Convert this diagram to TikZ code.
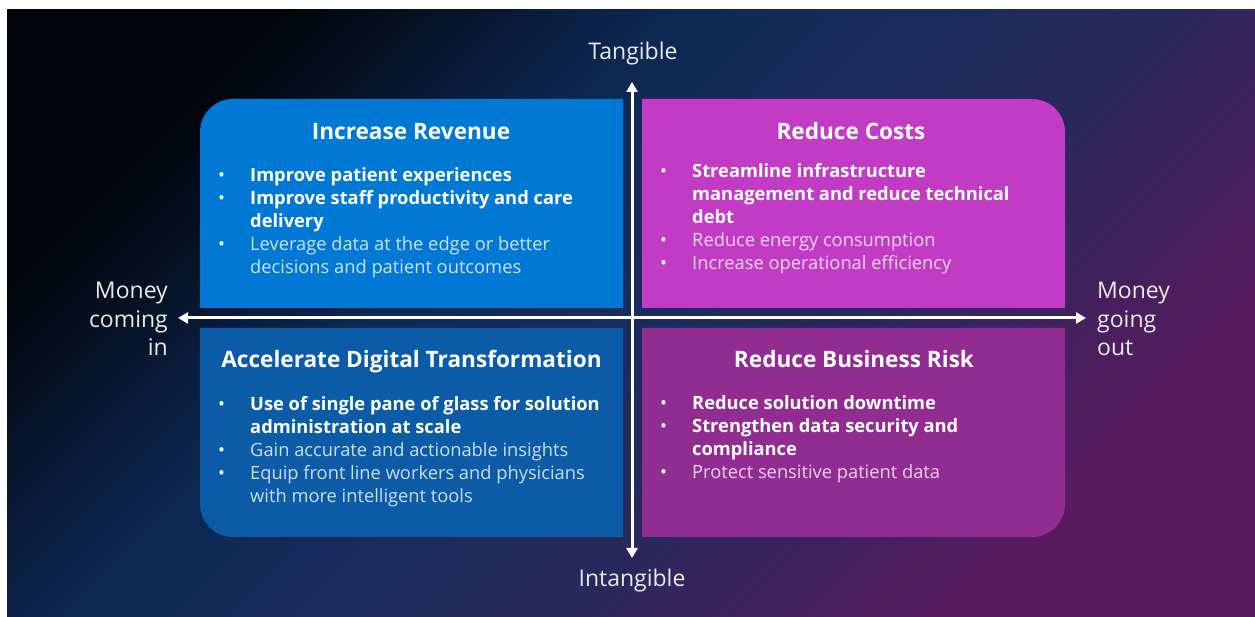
\documentclass[tikz,border=0pt]{standalone}
\usepackage{fontspec}
\setmainfont{Open Sans}
\usetikzlibrary{arrows.meta}

\definecolor{bgA}{HTML}{01040A}
\definecolor{bgB}{HTML}{0D2853}
\definecolor{bgC}{HTML}{192C5E}
\definecolor{bgD}{HTML}{2B275C}
\definecolor{bgE}{HTML}{5C1A5E}
\definecolor{boxTL}{HTML}{0078D4}
\definecolor{boxTR}{HTML}{C13BC4}
\definecolor{boxBL}{HTML}{0B5BA6}
\definecolor{boxBR}{HTML}{912C91}
\colorlet{regTL}{white!80!boxTL}
\colorlet{regTR}{white!80!boxTR}
\colorlet{regBL}{white!80!boxBL}
\colorlet{regBR}{white!80!boxBR}

\pgfdeclarehorizontalshading{bgdiag}{100bp}{%
  color(0bp)=(bgA); color(25bp)=(bgA); color(40bp)=(bgB);
  color(50bp)=(bgC); color(60bp)=(bgD); color(75bp)=(bgE); color(100bp)=(bgE)}

\newcommand\bul{\makebox[32pt][l]{•}}
\newcommand\ind{\hspace*{32pt}}

\begin{document}
\begin{tikzpicture}[x=1pt,y=1pt,
  ttl/.style={text=white, inner sep=0pt, font=\fontsize{22.6}{27}\selectfont\bfseries},
  lst/.style={text=white, inner sep=0pt, align=left, font=\fontsize{18.3}{23}\selectfont},
  axlbl/.style={text=white!92!black, inner sep=0pt, font=\fontsize{23}{28.5}\selectfont},
  axisline/.style={draw=white, line width=3pt, {Triangle[length=10pt,width=11pt]}-{Triangle[length=10pt,width=11pt]}}]
\useasboundingbox (0,0) rectangle (1255,617);
\fill[white] (0,0) rectangle (1255,617);
% backdrop
\shade[shading=bgdiag, shading angle=-45] (7,0) rectangle (1255,607);

% quadrant panels, each rounded at its outer corner
\fill[boxTL] (623,309) -- (200,309) -- (200,485) arc[start angle=180,end angle=90,radius=33] -- (623,518) -- cycle;
\fill[boxTR] (642,309) -- (1065,309) -- (1065,485) arc[start angle=0,end angle=90,radius=33] -- (642,518) -- cycle;
\fill[boxBL] (623,289) -- (200,289) -- (200,113) arc[start angle=180,end angle=270,radius=33] -- (623,80) -- cycle;
\fill[boxBR] (642,289) -- (1065,289) -- (1065,113) arc[start angle=0,end angle=-90,radius=33] -- (642,80) -- cycle;

% titles
\node[ttl, anchor=base] (revT) at (411,477) {Increase Revenue};
\node[ttl, anchor=base] (costT) at (851,477.7) {Reduce Costs};
\node[ttl, anchor=base] (digT) at (411.5,249.3) {Accelerate Digital Transformation};
\node[ttl, anchor=base] (riskT) at (854,249.3) {Reduce Business Risk};

% bullet lists
\node[lst, anchor=north west] (revL) at (218,452.1) {%
\strut\bul\textbf{Improve patient experiences}\\
\bul\textbf{Improve staff productivity and care}\\
\ind\textbf{delivery}\\
\bul\textcolor{regTL}{Leverage data at the edge or better}\\
\ind\textcolor{regTL}{decisions and patient outcomes}};

\node[lst, anchor=north west] (costL) at (660,455.4) {%
\strut\bul\textbf{Streamline infrastructure}\\
\ind\textbf{management and reduce technical}\\
\ind\textbf{debt}\\
\bul\textcolor{regTR}{Reduce energy consumption}\\
\bul\textcolor{regTR}{Increase operational efficiency}};

\node[lst, anchor=north west] (digL) at (218,223.1) {%
\strut\bul\textbf{Use of single pane of glass for solution}\\
\ind\textbf{administration at scale}\\
\bul\textcolor{regBL}{Gain accurate and actionable insights}\\
\bul\textcolor{regBL}{Equip front line workers and physicians}\\
\ind\textcolor{regBL}{with more intelligent tools}};

\node[lst, anchor=north west] (riskL) at (660,223.8) {%
\strut\bul\textbf{Reduce solution downtime}\\
\bul\textbf{Strengthen data security and}\\
\ind\textbf{compliance}\\
\bul\textcolor{regBR}{Protect sensitive patient data}};

% axis labels
\node[axlbl, anchor=base] (tang) at (633,557.7) {Tangible};
\node[axlbl, anchor=base] (intang) at (632,30.3) {Intangible};
\node[axlbl, anchor=north east, align=right] (mIn) at (168,338.6) {\strut Money\\coming\\in};
\node[axlbl, anchor=north west, align=left] (mOut) at (1097,338.6) {\strut Money\\going\\out};

% axes
\coordinate (vTop) at (632,535);
\coordinate (vBot) at (632,59);
\coordinate (hLeft) at (178,299);
\coordinate (hRight) at (1086,299);
\draw[axisline] (vBot) -- (vTop);
\draw[axisline] (hLeft) -- (hRight);
\end{tikzpicture}
\end{document}
